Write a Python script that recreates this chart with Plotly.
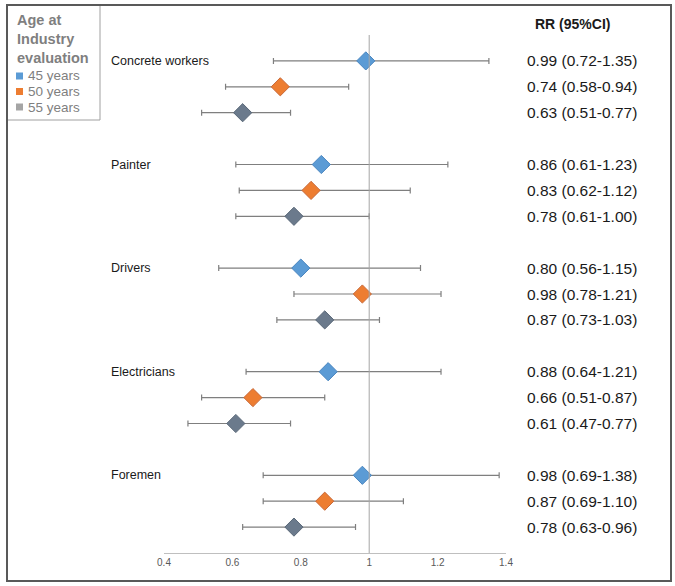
import plotly.graph_objects as go

industries = ["Concrete workers", "Painter", "Drivers", "Electricians", "Foremen"]
ages = ["45 years", "50 years", "55 years"]
rr = [[0.99, 0.74, 0.63], [0.86, 0.83, 0.78], [0.80, 0.98, 0.87], [0.88, 0.66, 0.61], [0.98, 0.87, 0.78]]
lo = [[0.72, 0.58, 0.51], [0.61, 0.62, 0.61], [0.56, 0.78, 0.73], [0.64, 0.51, 0.47], [0.69, 0.69, 0.63]]
hi = [[1.35, 0.94, 0.77], [1.23, 1.12, 1.00], [1.15, 1.21, 1.03], [1.21, 0.87, 0.77], [1.38, 1.10, 0.96]]
x_ticks = [0.4, 0.6, 0.8, 1, 1.2, 1.4]
x_tick_labels = ["0.4", "0.6", "0.8", "1", "1.2", "1.4"]

marker_colors = ["#5B9BD5", "#ED7D31", "#6B7A8C"]
marker_lines = ["#4A86C0", "#C8693A", "#5A6878"]
legend_colors = ["#5B9BD5", "#ED7D31", "#A5A5A5"]

W, H = 675, 586
ML, MR, MT, MB = 164, 169, 35, 33
PW, PH = W - ML - MR, H - MT - MB


def px(xpix):
    return (xpix - ML) / PW


def py(ypix):
    return (H - MB - ypix) / PH


fig = go.Figure()
for a in range(3):
    xs, ys, ep, em = [], [], [], []
    for g in range(len(industries)):
        xs.append(rr[g][a])
        ys.append(g * 4 + a)
        ep.append(hi[g][a] - rr[g][a])
        em.append(rr[g][a] - lo[g][a])
    fig.add_trace(go.Scatter(
        x=xs, y=ys, mode="markers", showlegend=False, name=ages[a],
        marker=dict(symbol="diamond", size=14, color=marker_colors[a],
                    line=dict(color=marker_lines[a], width=1)),
        error_x=dict(type="data", symmetric=False, array=ep, arrayminus=em,
                     color="#7F7F7F", thickness=1.2, width=3),
    ))

annotations = []
for g, name in enumerate(industries):
    annotations.append(dict(x=px(109), y=g * 4, xref="paper", yref="y", text=name,
                            showarrow=False, xanchor="left", yanchor="middle",
                            font=dict(size=12.5, color="#1a1a1a")))
    for a in range(3):
        annotations.append(dict(x=px(582), y=g * 4 + a, xref="paper", yref="y",
                                text=f"{rr[g][a]:.2f} ({lo[g][a]:.2f}-{hi[g][a]:.2f})",
                                showarrow=False, xanchor="center", yanchor="middle",
                                font=dict(size=15.5, color="#1a1a1a")))
annotations.append(dict(x=px(572), y=py(24), xref="paper", yref="paper", text="<b>RR (95%CI)</b>",
                        showarrow=False, xanchor="center", yanchor="middle",
                        font=dict(size=14, color="#1a1a1a")))

# legend (manual)
annotations.append(dict(x=px(15), y=py(10), xref="paper", yref="paper",
                        text="<b>Age at<br>Industry<br>evaluation</b>", align="left",
                        showarrow=False, xanchor="left", yanchor="top",
                        font=dict(size=14.5, color="#7F7F7F")))
shapes = []
for a in range(3):
    cy = 76 + a * 15.5
    annotations.append(dict(x=px(26), y=py(cy), xref="paper", yref="paper", text=ages[a],
                            showarrow=False, xanchor="left", yanchor="middle",
                            font=dict(size=13.5, color="#7F7F7F")))
    shapes.append(dict(type="rect", xref="paper", yref="paper", x0=px(16), x1=px(23),
                       y0=py(cy + 3.5), y1=py(cy - 3.5), fillcolor=legend_colors[a],
                       line=dict(width=0)))

shapes += [
    dict(type="line", xref="x", yref="paper", x0=1, x1=1, y0=0, y1=1,
         line=dict(color="#A6A6A6", width=1)),
    dict(type="rect", xref="paper", yref="paper", x0=px(7), x1=px(100),
         y0=py(120), y1=py(5), line=dict(color="#A0A0A0", width=1)),
    dict(type="rect", xref="paper", yref="paper", x0=px(7), x1=px(671),
         y0=py(581), y1=py(5), line=dict(color="#595959", width=2)),
]

fig.update_layout(
    width=W, height=H,
    margin=dict(l=ML, r=MR, t=MT, b=MB, autoexpand=False),
    paper_bgcolor="white", plot_bgcolor="white",
    font=dict(family="Liberation Sans, Arial, sans-serif"),
    xaxis=dict(range=[0.4, 1.4], tickvals=x_ticks, ticktext=x_tick_labels,
               showgrid=False, zeroline=False, showline=True, linecolor="#BFBFBF",
               linewidth=1, ticks="", tickfont=dict(size=10, color="#595959")),
    yaxis=dict(range=[19, -1], showgrid=False, zeroline=False, showticklabels=False,
               showline=False, ticks=""),
    showlegend=False,
    annotations=annotations,
    shapes=shapes,
)

fig.write_html("out.html", config={"displayModeBar": False},
               post_script="document.body.style.margin='0';document.body.style.overflow='hidden';")
